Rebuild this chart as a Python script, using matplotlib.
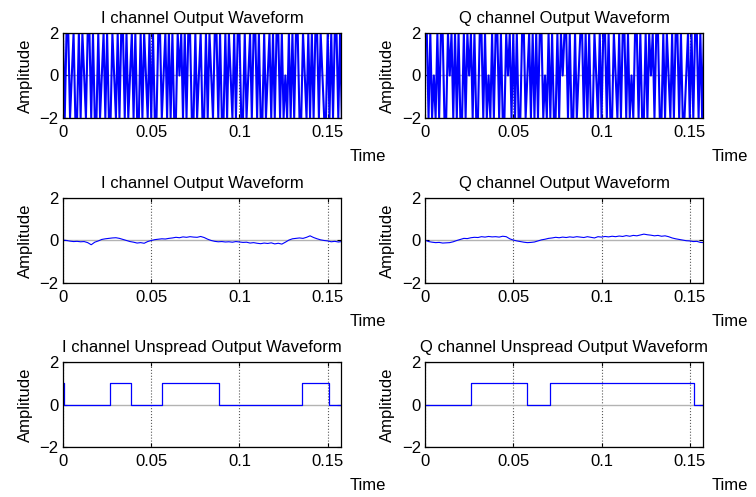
import numpy as np
import matplotlib
matplotlib.use("Agg")
import matplotlib.pyplot as plt

plt.rcParams['font.family'] = ['Liberation Sans', 'DejaVu Sans']
plt.rcParams['font.size'] = 12

# ---------- data ----------
# top row: spread (chip) outputs, one sample every 1 ms
t_chip = np.arange(159) * 0.001
i_spread = [2, -2, 2, 2, -2, 0, 2, -2, -2, 2, -2, 2, 0, -2, 2, 2, -2, 2, -2, -2,
            2, -2, 0, 2, -2, 2, -2, -2, 2, 0, -2, 2, -2, 2, 2, -2, 2, -2, 0, 2,
            -2, 2, -2, -2, 2, -2, 2, 0, -2, 2, -2, 2, -2, -2, 2, 2, -2, 0, 2, -2,
            2, -2, 2, -2, -2, 2, 0, 2, -2, 2, -2, 2, 2, -2, -2, 2, -2, 0, 2, -2,
            -2, 2, -2, 2, 0, -2, 2, 2, -2, 2, -2, -2, 2, -2, 2, 0, -2, 2, -2, 2,
            2, -2, -2, 2, -2, 0, 2, -2, 2, 2, -2, 2, -2, -2, 2, -2, 0, 2, -2, 2,
            -2, 2, 2, -2, 2, -2, 0, -2, 2, -2, 2, -2, 2, 2, -2, -2, 2, 0, -2, 2,
            -2, 2, -2, 2, 2, -2, 2, 0, -2, -2, 2, -2, 2, -2, 2, 2, -2, 2, -2]
q_spread = [2, 2, -2, 2, -2, 0, -2, 2, -2, 2, 2, -2, -2, 2, 0, 2, -2, 2, -2, 2,
            -2, -2, 2, -2, 2, 0, 2, -2, 2, -2, -2, 2, 2, -2, 2, -2, 0, -2, 2, -2,
            2, 2, -2, 2, -2, -2, 2, 0, 2, -2, 2, -2, 2, -2, -2, 2, 2, -2, 0, 2,
            -2, 2, -2, 2, -2, 2, 2, -2, 0, -2, 2, -2, 2, -2, -2, 2, -2, 2, 0, 2,
            2, -2, 2, -2, -2, 2, -2, 0, 2, 2, -2, 2, -2, 2, -2, -2, 2, 0, -2, 2,
            -2, 2, 2, -2, 2, -2, -2, 2, 0, -2, 2, -2, 2, 2, -2, 2, -2, 0, -2, 2,
            2, -2, 2, -2, -2, 2, -2, 2, 0, 2, -2, 2, 2, -2, -2, 2, -2, 2, 0, -2,
            2, -2, 2, 2, -2, 2, -2, -2, 0, 2, -2, 2, -2, 2, 2, -2, 2, -2, 2]

# middle row: received outputs, one sample every 2 ms
t_rx = np.arange(80) * 0.002
i_rx = [0.02, 0.00, -0.03, -0.05, -0.04, -0.06, -0.05, -0.10, -0.20, -0.08,
        -0.02, 0.05, 0.08, 0.10, 0.12, 0.13, 0.10, 0.05, 0.00, -0.05,
        -0.08, -0.12, -0.10, -0.13, -0.05, 0.00, 0.04, 0.06, 0.08, 0.07,
        0.10, 0.12, 0.15, 0.13, 0.17, 0.15, 0.18, 0.16, 0.15, 0.19,
        0.14, 0.06, 0.00, -0.04, -0.06, -0.05, -0.07, -0.06, -0.08, -0.05,
        -0.07, -0.09, -0.08, -0.12, -0.10, -0.13, -0.15, -0.12, -0.14, -0.11,
        -0.16, -0.13, -0.17, -0.08, 0.02, 0.08, 0.10, 0.12, 0.10, 0.15,
        0.22, 0.14, 0.08, 0.03, 0.00, -0.02, -0.06, -0.04, -0.07, -0.05]
q_rx = [0.02, -0.05, -0.08, -0.10, -0.09, -0.12, -0.11, -0.10, -0.06, 0.00,
        0.05, 0.10, 0.09, 0.13, 0.15, 0.14, 0.18, 0.16, 0.19, 0.17,
        0.18, 0.16, 0.20, 0.18, 0.08, 0.02, -0.02, -0.05, -0.08, -0.10,
        -0.09, -0.07, -0.02, 0.03, 0.06, 0.10, 0.12, 0.15, 0.13, 0.16,
        0.14, 0.17, 0.15, 0.18, 0.16, 0.14, 0.18, 0.15, 0.12, 0.18,
        0.16, 0.19, 0.17, 0.20, 0.18, 0.21, 0.19, 0.23, 0.20, 0.24,
        0.22, 0.26, 0.30, 0.27, 0.25, 0.22, 0.24, 0.20, 0.22, 0.18,
        0.12, 0.08, 0.05, 0.02, -0.01, -0.02, -0.05, -0.04, -0.09, -0.10]

# bottom row: despread data (step levels between breakpoints)
i_edges = [0, 0.0006, 0.0266, 0.0385, 0.0563, 0.0884, 0.1352, 0.1505, 0.158]
i_bits = [1, 0, 1, 0, 1, 0, 1, 0, 0]
q_edges = [0, 0.0259, 0.058, 0.0708, 0.1525, 0.158]
q_bits = [0, 1, 0, 1, 0, 0]

titles = ["I channel Output Waveform", "Q channel Output Waveform",
          "I channel Output Waveform", "Q channel Output Waveform",
          "I channel Unspread Output Waveform", "Q channel Unspread Output Waveform"]

fig = plt.figure(figsize=(7.56, 4.97), dpi=100)
lefts = [0.0833, 0.5622]
bottoms = [0.7626, 0.4306, 0.1006]
W, H = 0.3677, 0.171

axs = []
for r in range(3):
    for c in range(2):
        axs.append(fig.add_axes([lefts[c], bottoms[r], W, H]))

axs[0].plot(t_chip, i_spread, color="blue", lw=1.5)
axs[1].plot(t_chip, q_spread, color="blue", lw=1.5)
axs[2].plot(t_rx, i_rx, color="blue", lw=0.8)
axs[3].plot(t_rx, q_rx, color="blue", lw=0.8)
axs[4].plot(i_edges, i_bits, color="blue", lw=0.9, drawstyle="steps-post")
axs[5].plot(q_edges, q_bits, color="blue", lw=0.9, drawstyle="steps-post")

for ax, ttl in zip(axs, titles):
    ax.set_xlim(0, 0.1575)
    ax.set_ylim(-2, 2)
    ax.set_xticks([0, 0.05, 0.1, 0.15])
    ax.set_xticklabels(["0", "0.05", "0.1", "0.15"])
    ax.set_yticks([-2, 0, 2])
    ax.tick_params(direction="in", top=True, right=True, length=3,
                   labelsize=12)
    ax.tick_params(axis="x", pad=5)
    ax.tick_params(axis="y", pad=3)
    ax.xaxis.grid(True, color="0.35", ls=":", lw=0.8)
    ax.yaxis.grid(True, color="0.7", ls="-", lw=1.0)
    ax.set_axisbelow(True)
    for s in ax.spines.values():
        s.set_linewidth(0.9)
    ax.set_title(ttl, fontsize=12, pad=7)
    ax.set_ylabel("Amplitude", fontsize=12, labelpad=5)
    ax.set_xlabel("Time", fontsize=12)
    ax.xaxis.set_label_coords(1.095, -0.36)

fig.savefig("out.png", dpi=100)
